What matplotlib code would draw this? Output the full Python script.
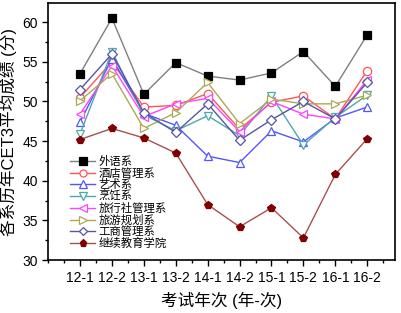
import matplotlib
matplotlib.use("Agg")
from matplotlib import pyplot as plt
from matplotlib.ticker import MultipleLocator

plt.rcParams['font.family'] = ['Liberation Sans', 'Noto Sans CJK SC', 'DejaVu Sans']
plt.rcParams['axes.unicode_minus'] = False

terms = ['12-1', '12-2', '13-1', '13-2', '14-1', '14-2', '15-1', '15-2', '16-1', '16-2']

waiyu = [53.5, 60.5, 50.9, 54.9, 53.2, 52.7, 53.6, 56.3, 51.9, 58.4]
jiudian = [50.5, 55.0, 49.3, 49.5, 51.0, 46.5, 49.9, 50.7, 47.8, 53.9]
yishu = [47.4, 55.4, 48.5, 47.0, 43.1, 42.3, 46.3, 44.9, 47.9, 49.3]
pengren = [45.9, 56.3, 48.3, 46.3, 48.2, 45.7, 50.7, 44.5, 48.0, 50.8]
lvxingshe = [48.4, 54.5, 48.1, 49.7, 50.4, 46.2, 50.0, 48.4, 47.8, 52.7]
lvyou = [50.1, 53.5, 46.6, 48.6, 52.4, 47.2, 50.3, 49.7, 49.7, 50.8]
gongshang = [51.5, 56.0, 48.6, 46.1, 49.7, 45.1, 47.7, 50.0, 47.8, 52.4]
jixu = [45.2, 46.6, 45.4, 43.5, 37.0, 34.2, 36.6, 32.8, 40.8, 45.3]

series = [
    ('外语系', waiyu, 's', '#000000', '#7f7f7f', True),
    ('酒店管理系', jiudian, 'o', '#ff5555', '#ff5555', False),
    ('艺术系', yishu, '^', '#5555ff', '#5555ff', False),
    ('烹饪系', pengren, 'v', '#4fa8a8', '#4fa8a8', False),
    ('旅行社管理系', lvxingshe, '<', '#ff44ff', '#ff44ff', False),
    ('旅游规划系', lvyou, '>', '#aaaa55', '#aaaa55', False),
    ('工商管理系', gongshang, 'D', '#5555aa', '#5555aa', False),
    ('继续教育学院', jixu, 'p', '#800000', '#a85050', True),
]

fig = plt.figure(figsize=(4.01, 3.13), dpi=100)
ax = fig.add_axes([0.12, 0.169, 0.865, 0.821])

x = list(range(len(terms)))
for name, vals, mk, mc, lc, filled in series:
    ms = 6 if mk != 'D' else 5
    ax.plot(x, vals, color=lc, linewidth=1, marker=mk, markersize=ms,
            markeredgecolor=mc, markerfacecolor=mc if filled else 'white',
            markeredgewidth=0.9, label=name)

ax.set_xlim(-1, 9.87)
ax.set_ylim(30, 62.4)
ax.set_xticks(x)
ax.set_xticklabels(terms, fontsize=10)
ax.xaxis.set_minor_locator(MultipleLocator(0.5))
ax.yaxis.set_major_locator(MultipleLocator(5))
ax.yaxis.set_minor_locator(MultipleLocator(2.5))
ax.tick_params(axis='y', labelsize=10)
ax.tick_params(which='major', direction='out', length=4, width=1)
ax.tick_params(which='minor', direction='out', length=2.5, width=1)
for s in ax.spines.values():
    s.set_linewidth(1.2)

ax.set_xlabel('考试年次 (年-次)', fontsize=12, labelpad=5)
ax.set_ylabel('各系历年CET3平均成绩 (分)', fontsize=12, labelpad=4)

leg = ax.legend(loc='lower left', bbox_to_anchor=(0.05, 0.025), frameon=False,
                fontsize=8.2, handlelength=2.2, handletextpad=0.3,
                labelspacing=0.06, borderaxespad=0.0, markerscale=0.85)

fig.savefig('out.png', dpi=100)
